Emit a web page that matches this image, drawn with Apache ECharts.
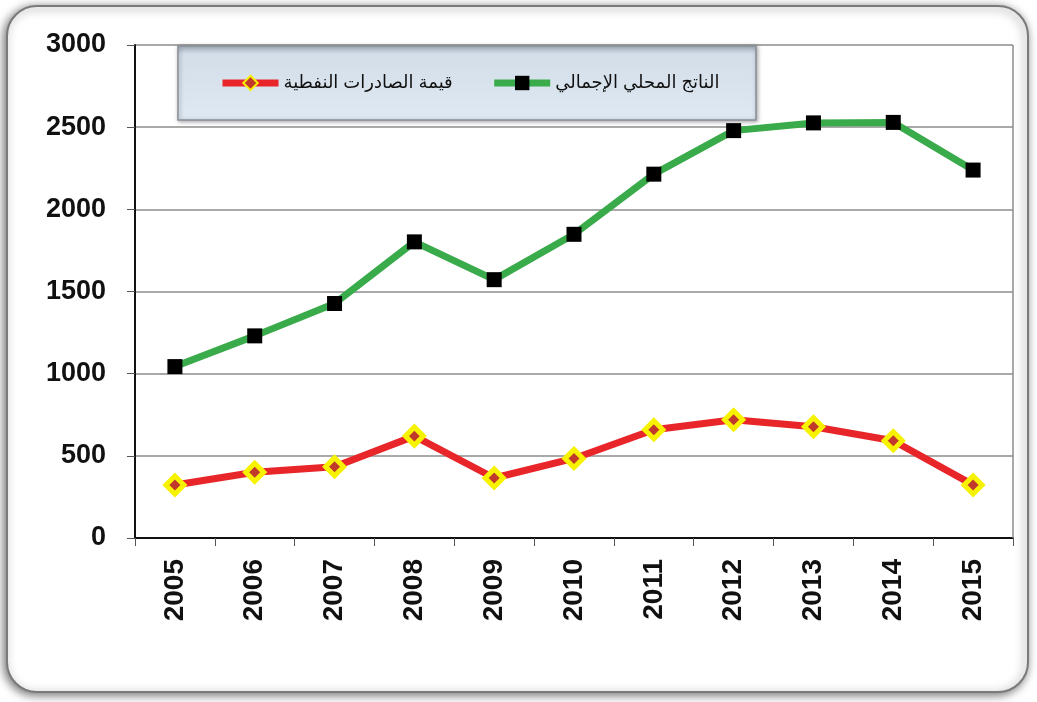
<!DOCTYPE html>
<html>
<head>
<meta charset="utf-8">
<script src="https://cdn.jsdelivr.net/npm/echarts@6/dist/echarts.min.js"></script>
<style>
html,body{margin:0;padding:0;background:#fff;}
#chart{width:1037px;height:702px;}
</style>
</head>
<body>
<div id="chart"></div>
<script>
var years = ['2005','2006','2007','2008','2009','2010','2011','2012','2013','2014','2015'];
var gdpName = 'الناتج المحلي الإجمالي';
var oilName = 'قيمة الصادرات النفطية';
var gdpValues = [1043, 1230, 1427, 1802, 1572, 1848, 2214, 2479, 2526, 2529, 2239];
var oilValues = [323, 400, 434, 620, 365, 484, 659, 720, 677, 592, 323];
var yTicks = [0, 500, 1000, 1500, 2000, 2500, 3000];

var chart = echarts.init(document.getElementById('chart'), null, {renderer:'canvas'});
var fontFam = '"Liberation Sans", Arial, "DejaVu Sans", sans-serif';

chart.setOption({
  animation: false,
  backgroundColor: '#ffffff',
  graphic: [
    {
      type: 'rect', z: -10, silent: true,
      shape: {x: 7, y: 6, width: 1021, height: 686, r: 30},
      style: {fill: '#ffffff', stroke: '#7a7a7a', lineWidth: 2,
              shadowBlur: 10, shadowColor: 'rgba(0,0,0,0.55)', shadowOffsetX: -2, shadowOffsetY: 2}
    },
    {
      type: 'rect', z: 1, silent: true,
      shape: {x: 178, y: 46, width: 578, height: 74},
      style: {
        fill: new echarts.graphic.LinearGradient(0, 0, 0, 1, [
          {offset: 0, color: '#a9b6c4'},
          {offset: 0.12, color: '#d3dee9'},
          {offset: 1, color: '#dfe9f3'}
        ]),
        stroke: '#8a8f96', lineWidth: 1.5,
        shadowBlur: 4, shadowColor: 'rgba(0,0,0,0.35)', shadowOffsetX: 1, shadowOffsetY: 1
      }
    }
  ],
  legend: {
    z: 5,
    data: [oilName, gdpName],
    left: 214,
    top: 69,
    itemWidth: 56,
    itemHeight: 18,
    itemGap: 38,
    lineStyle: {width: 7},
    textStyle: {fontFamily: fontFam, fontSize: 18, color: '#111'}
  },
  grid: {left: 135, right: 24, top: 45, bottom: 164, containLabel: false},
  xAxis: {
    type: 'category',
    data: years,
    boundaryGap: true,
    axisLine: {lineStyle: {color: '#111', width: 2}},
    axisTick: {show: true, length: 8, alignWithLabel: false, lineStyle: {color: '#555', width: 1}},
    axisLabel: {rotate: 90, margin: 21, fontFamily: fontFam, fontSize: 28, fontWeight: 'bold', color: '#111'},
    splitLine: {show: false}
  },
  yAxis: {
    type: 'value',
    min: yTicks[0],
    max: yTicks[yTicks.length - 1],
    interval: 500,
    axisLine: {show: true, lineStyle: {color: '#111', width: 2}},
    axisTick: {show: true, length: 8, lineStyle: {color: '#555', width: 1}},
    axisLabel: {margin: 29, fontFamily: fontFam, fontSize: 27, fontWeight: 'bold', color: '#111',
                formatter: function (v) { return String(v); }},
    splitLine: {show: true, lineStyle: {color: '#8c8c8c', width: 1.5}}
  },
  series: [
    {
      name: gdpName,
      type: 'line',
      data: gdpValues,
      symbol: 'rect',
      symbolSize: 15,
      z: 3,
      lineStyle: {color: '#3aab4b', width: 7},
      itemStyle: {color: '#000000', borderColor: '#000', borderWidth: 0}
    },
    {
      name: oilName,
      type: 'line',
      data: oilValues,
      symbol: 'diamond',
      symbolSize: 18,
      z: 3,
      lineStyle: {color: '#e8262a', width: 7},
      itemStyle: {color: '#c0392b', borderColor: '#f6f200', borderWidth: 5}
    },
    {
      type: 'line',
      data: [],
      markLine: {
        silent: true, symbol: 'none', label: {show: false},
        lineStyle: {color: '#8c8c8c', width: 1.5, type: 'solid'},
        data: [[{xAxis: years[years.length-1], yAxis: 0, x: 1013}, {xAxis: years[years.length-1], yAxis: 3000, x: 1013}]]
      }
    }
  ]
});
</script>
</body>
</html>
